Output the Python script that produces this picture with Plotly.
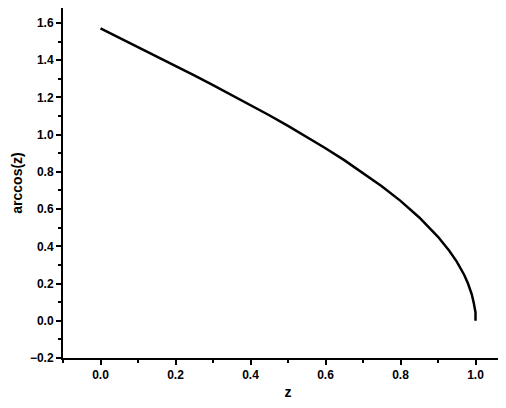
import plotly.graph_objects as go

# values
z = [0.0, 0.05, 0.1, 0.15, 0.2, 0.25, 0.3, 0.35, 0.4, 0.45, 0.5, 0.55, 0.6, 0.65,
     0.7, 0.75, 0.8, 0.85, 0.9, 0.93, 0.95, 0.97, 0.98, 0.99, 0.995, 1.0, 1.0]
arccos_z = [1.571, 1.521, 1.471, 1.420, 1.369, 1.318, 1.266, 1.213, 1.159, 1.104,
            1.047, 0.988, 0.927, 0.863, 0.795, 0.723, 0.644, 0.555, 0.451, 0.376,
            0.318, 0.246, 0.200, 0.142, 0.100, 0.045, 0.0]

fig = go.Figure(go.Scatter(x=z, y=arccos_z, mode="lines",
                           line=dict(color="black", width=2.5)))

font = dict(family="Liberation Sans", size=12, color="black", weight="bold")
axis = dict(showline=True, linecolor="black", linewidth=2, ticks="outside",
            ticklen=5, tickwidth=2, tickcolor="black", showgrid=False,
            zeroline=False, mirror=False, tickfont=font,
            minor=dict(ticks="outside", ticklen=3, tickwidth=2, tickcolor="black"))

fig.update_layout(
    width=506, height=408, margin=dict(l=55, r=1, t=0, b=58),
    paper_bgcolor="white", plot_bgcolor="white", showlegend=False,
    xaxis=dict(axis, range=[-0.1, 1.1], tickvals=[0, 0.2, 0.4, 0.6, 0.8, 1.0],
               ticktext=["0.0", "0.2", "0.4", "0.6", "0.8", "1.0"],
               minor=dict(axis["minor"], dtick=0.1, tick0=0.1),
               title=dict(text="z", font=dict(font, size=14), standoff=6)),
    yaxis=dict(axis, range=[-0.2, 1.68], dtick=0.2, tickformat=".1f",
               minor=dict(axis["minor"], dtick=0.1, tick0=-0.1),
               title=dict(text="arccos(z)", font=dict(font, size=14), standoff=4)),
)

fig.write_html("out.html")
